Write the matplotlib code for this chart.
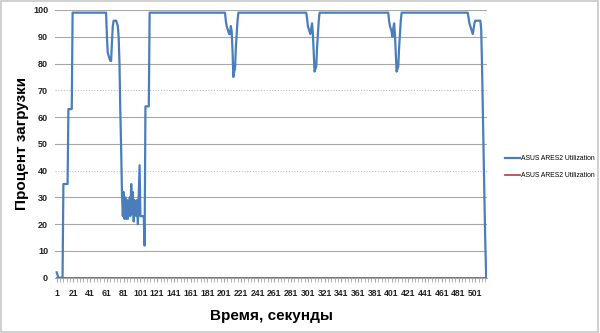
import matplotlib
matplotlib.use("Agg")
import matplotlib.pyplot as plt
from matplotlib.patches import Rectangle

# ---- data ----
start_vals = [2, 1] + [0] * 6 + [35] * 6 + [63] * 5 + [99] * 41
first_dip = [90, 84, 83, 82, 81, 81, 88, 94, 96, 96, 96, 96, 95, 94, 90, 80, 62, 48]
noisy = [31, 23, 32, 22, 30, 22, 29, 22, 26, 30, 23, 35, 24, 32, 21, 29, 25, 23, 29, 20,
         31, 42, 23, 23, 23, 23, 23, 12]
recover = [64] * 5 + [99] * 91
dip1 = [96, 94, 93, 92, 91, 91, 94, 92, 85, 75, 77, 78, 86, 91, 96]
plateau2 = [99] * 82
dip2 = [97, 94, 93, 92, 91, 93, 95, 91, 84, 77, 78, 79, 86, 91, 96]
plateau3 = [99] * 83
dip3 = [96, 94, 93, 92, 90, 93, 95, 91, 84, 77, 78, 79, 86, 91, 96]
plateau4 = [99] * 80
ending = [97, 95, 94, 93, 92, 91, 93, 95, 96, 96, 96, 96, 96, 96, 96, 93, 80, 62, 45, 28, 12, 0]

blue = (start_vals + first_dip + noisy + recover + dip1 + plateau2 + dip2 +
        plateau3 + dip3 + plateau4 + ending)
red = [0] * len(blue)
seconds = list(range(1, len(blue) + 1))
tick_labels = list(range(1, 502, 20))
series_names = ["ASUS ARES2 Utilization", "ASUS ARES2 Utilization"]

# ---- figure ----
fig = plt.figure(figsize=(6.0, 3.33), dpi=100)
ax = fig.add_axes([0.0917, 0.166, 0.72, 0.804])

for yv in range(10, 101, 10):
    if yv in (40, 70):
        ax.axhline(yv, color="#c0c0c0", lw=0.8, ls=(0, (1, 1.5)), zorder=1)
    else:
        ax.axhline(yv, color="#a6a6a6", lw=0.8, zorder=1)

l1, = ax.plot(seconds, blue, color="#4a7ebb", lw=1.6, zorder=3, solid_joinstyle="round")
l2, = ax.plot(seconds, red, color="#be4b48", lw=1.3, zorder=4)

ax.set_xlim(-1, 515)
ax.set_ylim(0, 100)
ax.set_yticks(range(0, 101, 10))
ax.set_xticks(tick_labels)
ax.set_xticklabels([str(t) for t in tick_labels])
ax.set_xticks(range(1, 515, 4), minor=True)

for s in ("left", "top", "right"):
    ax.spines[s].set_visible(False)
ax.spines["bottom"].set_color("#a6a6a6")

ax.tick_params(axis="y", length=0, pad=5, labelsize=6.5, labelcolor="#222222")
ax.tick_params(axis="x", which="major", length=3, color="#a6a6a6", pad=5,
               labelsize=6.2, labelcolor="#222222")
ax.tick_params(axis="x", which="minor", length=3, color="#a6a6a6")
for lab in ax.get_xticklabels() + ax.get_yticklabels():
    lab.set_fontweight("bold")
    lab.set_family("Liberation Sans")

ax.set_xlabel("Время, секунды", fontsize=11, fontweight="bold",
              family="Liberation Sans", labelpad=8)
ax.set_ylabel("Процент загрузки", fontsize=11, fontweight="bold",
              family="Liberation Sans", labelpad=3)

fig.legend([l1, l2], series_names, loc="center left",
           bbox_to_anchor=(0.842, 0.498), frameon=False,
           prop={"family": "Liberation Sans", "size": 4.9},
           handlelength=2.2, handletextpad=0.1, labelspacing=1.5,
           borderpad=0, borderaxespad=0)

fig.patches.append(Rectangle((0.002, 0.003), 0.994, 0.993, transform=fig.transFigure,
                             fill=False, edgecolor="#c8c8c8", lw=1.2))

fig.savefig("out.png", dpi=100, facecolor="white")
